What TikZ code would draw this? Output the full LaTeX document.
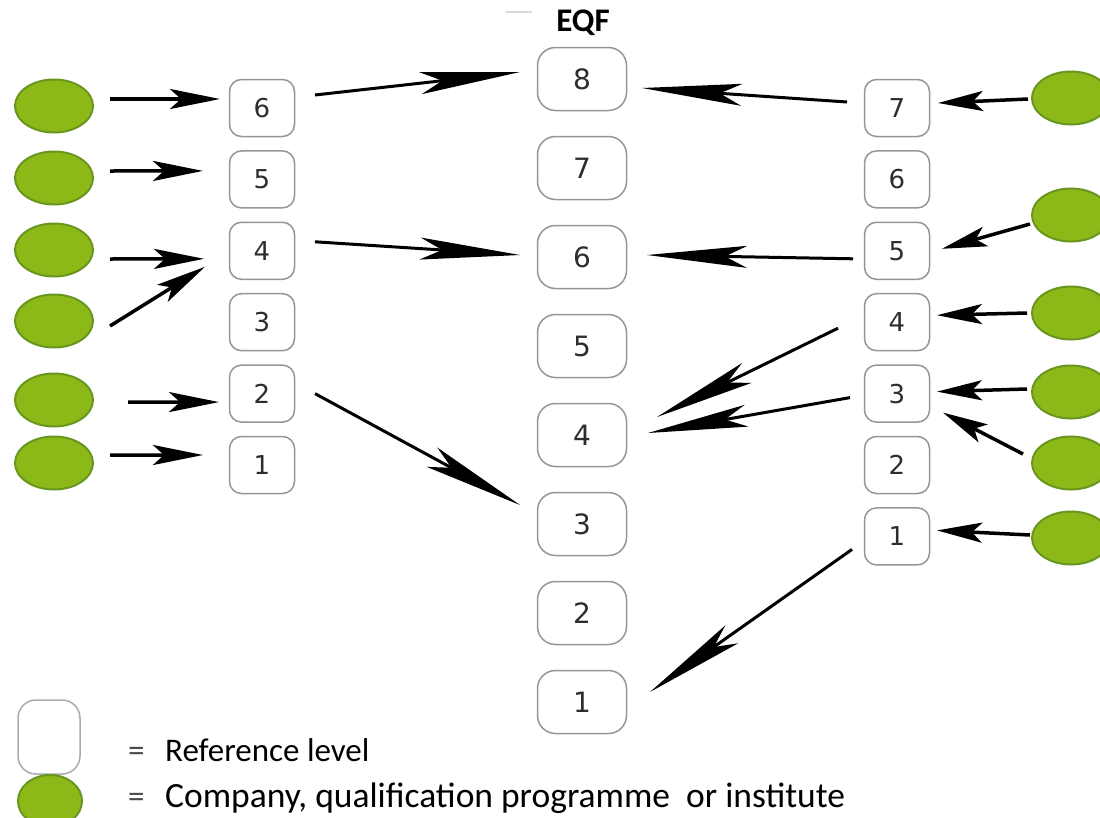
\documentclass[tikz,border=0pt]{standalone}
\usepackage{fontspec}
\setmainfont{Carlito}
\newfontfamily\digfont{DejaVu Sans}
\usetikzlibrary{arrows.meta,shapes.geometric}
\definecolor{leaf}{RGB}{141,185,24}
\definecolor{leafdark}{RGB}{104,150,30}
\definecolor{boxgray}{RGB}{150,150,150}
\definecolor{digit}{RGB}{45,45,45}
\begin{document}
\begin{tikzpicture}[x=1pt,y=-1pt,
 lvl/.style={draw=boxgray, line width=1.5pt, rounded corners=12pt, minimum width=65pt, minimum height=57pt, inner sep=0pt, font=\digfont\fontsize{26}{28}\selectfont, text=digit, fill=white},
 eqfbox/.style={lvl, rounded corners=18pt, minimum width=89pt, minimum height=63pt, font=\digfont\fontsize{28}{30}\selectfont},
 org/.style={ellipse, draw=leafdark, line width=2pt, fill=leaf, minimum width=78pt, minimum height=53pt, inner sep=0pt},
 shortarr/.style={line width=3.5pt, -{Stealth[length=50pt,width=20pt,inset=11pt]}},
 rshortarr/.style={line width=3.5pt, -{Stealth[length=45pt,width=20pt,inset=10pt]}},
 longarr/.style={line width=3pt, -{Stealth[length=100pt,width=22pt,inset=22pt]}},
 legtext/.style={anchor=base west, inner sep=0pt, font=\fontsize{33}{36}\selectfont, text=black},
]
\useasboundingbox (0,0) rectangle (1100,817);
\fill[white] (0,0) rectangle (1100,817);

% left organisations
\foreach \i/\y in {1/106,2/178,3/250,4/321,5/400,6/463}
  \node[org] (e\i) at (54,\y) {};
% right organisations
\foreach \i/\y in {1/98,2/215,3/313,4/392,5/463,6/538}
  \node[org] (r\i) at (1071,\y) {};
% left levels
\foreach \k in {1,...,6}
  \node[lvl] (L\k) at (262,{108+71.4*(6-\k)}) {\k};
% right levels
\foreach \k in {1,...,7}
  \node[lvl] (R\k) at (897,{108+71.4*(7-\k)}) {\k};
% EQF levels
\foreach \k in {1,...,8}
  \node[eqfbox] (C\k) at (582,{79+89*(8-\k)}) {\k};

\node[font=\bfseries\fontsize{33}{35}\selectfont] (eqf) at (583,23) {EQF};
\coordinate (fa) at (506,12);
\coordinate (fb) at (532,12);
\draw[black!15, line width=2pt] (fa) -- (fb);

% left arrows
\draw[shortarr] ([shift={(56,-7)}]e1.center) -- ([shift={(-42,-9)}]L6.center);
\draw[shortarr] ([shift={(56,-7)}]e2.center) -- ([shift={(-59,-8.5)}]L5.center);
\draw[shortarr] ([shift={(56,9)}]e3.center) -- ([shift={(-58,8)}]L4.center);
\draw[shortarr] ([shift={(56,5)}]e4.center) -- ([shift={(-57,16)}]L4.center);
\draw[shortarr] ([shift={(74,2)}]e5.center) -- ([shift={(-43,8.5)}]L2.center);
\draw[shortarr] ([shift={(56,-8)}]e6.center) -- ([shift={(-59,-10)}]L1.center);

% to EQF
\draw[longarr] ([shift={(53,-13)}]L6.center) -- ([shift={(-62,-7)}]C8.center);
\draw[longarr] ([shift={(53,-9)}]L4.center) -- ([shift={(-62,-2)}]C6.center);
\draw[longarr] ([shift={(53,0)}]L2.center) -- ([shift={(-62,-19)}]C3.center);
\draw[longarr] ([shift={(-50,-6)}]R7.center) -- ([shift={(60,9)}]C8.center);
\draw[longarr] ([shift={(-44,8)}]R5.center) -- ([shift={(65,-2)}]C6.center);
\draw[longarr] ([shift={(-59,6)}]R4.center) -- ([shift={(75,-18)}]C4.center);
\draw[longarr] ([shift={(-47,4)}]R3.center) -- ([shift={(66,-2)}]C4.center);
\draw[longarr] ([shift={(-45,13)}]R1.center) -- ([shift={(68,-10)}]C1.center);

% right arrows
\draw[rshortarr] ([shift={(-43,1)}]r1.center) -- ([shift={(41,-5)}]R7.center);
\draw[rshortarr] ([shift={(-41,9)}]r2.center) -- ([shift={(45,-2)}]R5.center);
\draw[rshortarr] ([shift={(-44,0)}]r3.center) -- ([shift={(40,-7)}]R4.center);
\draw[rshortarr] ([shift={(-44,-3)}]r4.center) -- ([shift={(40,-2)}]R3.center);
\draw[rshortarr] ([shift={(-48,-9)}]r5.center) -- ([shift={(46,19)}]R3.center);
\draw[rshortarr] ([shift={(-41,-3)}]r6.center) -- ([shift={(40,-6)}]R1.center);

% legend
\node[lvl, rounded corners=18pt, minimum width=62pt, minimum height=74pt, draw=boxgray!80] (legbox) at (49,737) {};
\node[org, minimum width=64pt, minimum height=52pt] (legorg) at (50,801) {};
\node[legtext, text=black!70] (eq1) at (128,761) {=};
\node[legtext, text=black!70] (eq2) at (128,807) {=};
\node[legtext] (t1) at (165,761) {Reference level};
\node[legtext, font=\fontsize{35.5}{38}\selectfont] (t2) at (165,807) {Company, qualification programme\ \ or institute};
\end{tikzpicture}
\end{document}
